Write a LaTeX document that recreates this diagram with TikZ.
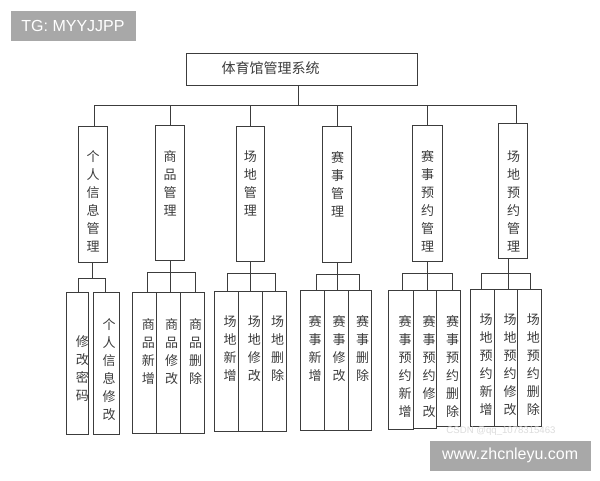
\documentclass[tikz,border=0pt]{standalone}
\usepackage{fontspec}
\setmainfont{Liberation Sans}
\newfontfamily\cjk{Noto Sans CJK SC}
\definecolor{linegray}{RGB}{60,60,60}
\definecolor{markgray}{RGB}{168,168,168}
\definecolor{faintgray}{RGB}{220,220,220}

\tikzset{every picture/.style={line width=1pt}}
\tikzset{
  cell/.style={draw=linegray, inner sep=0pt, outer sep=0pt, anchor=north west},
  vlabel/.style={font=\cjk\fontsize{13}{18}\selectfont, align=center, inner sep=0pt, anchor=north, text=linegray},
  link/.style={draw=linegray},
  wmbox/.style={fill=markgray, inner sep=0pt, anchor=north west, text=white, font=\fontsize{16}{16}\selectfont}
}

\begin{document}
\begin{tikzpicture}[x=1pt,y=1pt,yscale=-1,xscale=1]
\path[use as bounding box, fill=white] (0,0) rectangle (600,480);

%Shape: Rectangle [root]
\node[cell, minimum width=231.7, minimum height=32.4] (sys) at (186,53.3) {};
% Text Node
\node[font=\cjk\fontsize{14}{16}\selectfont, anchor=west, inner sep=0pt, text=linegray] (systext) at (221,67.7) {体育馆管理系统};

%Shape: Rectangle [modules]
\node[cell, minimum width=29.7, minimum height=136] (m1) at (78,126) {};
\node[cell, minimum width=29, minimum height=135] (m2) at (155.5,125.3) {};
\node[cell, minimum width=28, minimum height=135] (m3) at (236.3,126) {};
\node[cell, minimum width=29, minimum height=136] (m4) at (322.7,126) {};
\node[cell, minimum width=29.6, minimum height=135.3] (m5) at (412.7,125.7) {};
\node[cell, minimum width=29.2, minimum height=135.2] (m6) at (498.5,123.3) {};
% Text Node
\node[vlabel] (l1) at (93,150.2) {个\\人\\信\\息\\管\\理};
\node[vlabel] (l2) at (170,150.2) {商\\品\\管\\理};
\node[vlabel] (l3) at (250.3,150.2) {场\\地\\管\\理};
\node[vlabel] (l4) at (337.5,150.5) {赛\\事\\管\\理};
\node[vlabel] (l5) at (427.5,150.2) {赛\\事\\预\\约\\管\\理};
\node[vlabel] (l6) at (513.5,150) {场\\地\\预\\约\\管\\理};

%Shape: Rectangle [functions]
\node[cell, minimum width=22.7, minimum height=141.6] (s1a) at (66,292.7) {};
\node[cell, minimum width=26, minimum height=142] (s1b) at (93.3,292.7) {};
\node[cell, minimum width=24.4, minimum height=141] (s2a) at (132.3,292.3) {};
\node[cell, minimum width=23.3, minimum height=141] (s2b) at (156.7,292.3) {};
\node[cell, minimum width=24.3, minimum height=141] (s2c) at (180,292.3) {};
\node[cell, minimum width=24.4, minimum height=140.7] (s3a) at (214.3,291) {};
\node[cell, minimum width=23.6, minimum height=140.7] (s3b) at (238.7,291) {};
\node[cell, minimum width=23.7, minimum height=140.7] (s3c) at (262.3,291) {};
\node[cell, minimum width=24, minimum height=139.3] (s4a) at (300,290.7) {};
\node[cell, minimum width=24.3, minimum height=139.3] (s4b) at (324,290.7) {};
\node[cell, minimum width=22.7, minimum height=139.3] (s4c) at (348.3,290.7) {};
\node[cell, minimum width=25, minimum height=138.6] (s5a) at (388.3,290.7) {};
\node[cell, minimum width=23.4, minimum height=137.6] (s5b) at (413.3,290.7) {};
\node[cell, minimum width=24, minimum height=136] (s5c) at (436.7,290.7) {};
\node[cell, minimum width=23.6, minimum height=137.4] (s6a) at (470.7,289.3) {};
\node[cell, minimum width=23.4, minimum height=137.4] (s6b) at (494.3,289.3) {};
\node[cell, minimum width=24, minimum height=137.4] (s6c) at (517.7,289.3) {};
% Text Node
\node[vlabel] (t1a) at (82.3,335.2) {修\\改\\密\\码};
\node[vlabel] (t1b) at (109,318.5) {个\\人\\信\\息\\修\\改};
\node[vlabel] (t2a) at (148.3,318.5) {商\\品\\新\\增};
\node[vlabel] (t2b) at (171.7,318.5) {商\\品\\修\\改};
\node[vlabel] (t2c) at (195.7,318.5) {商\\品\\删\\除};
\node[vlabel] (t3a) at (230,315.2) {场\\地\\新\\增};
\node[vlabel] (t3b) at (254.3,315.2) {场\\地\\修\\改};
\node[vlabel] (t3c) at (277.7,315.2) {场\\地\\删\\除};
\node[vlabel] (t4a) at (315,315.2) {赛\\事\\新\\增};
\node[vlabel] (t4b) at (339,315.2) {赛\\事\\修\\改};
\node[vlabel] (t4c) at (362.7,315.2) {赛\\事\\删\\除};
\node[vlabel] (t5a) at (405,315.2) {赛\\事\\预\\约\\新\\增};
\node[vlabel] (t5b) at (429,315.2) {赛\\事\\预\\约\\修\\改};
\node[vlabel] (t5c) at (452.7,315.2) {赛\\事\\预\\约\\删\\除};
\node[vlabel] (t6a) at (486,313.5) {场\\地\\预\\约\\新\\增};
\node[vlabel] (t6b) at (510,313.5) {场\\地\\预\\约\\修\\改};
\node[vlabel] (t6c) at (533.3,313.5) {场\\地\\预\\约\\删\\除};

%Straight Lines [top bus]
\coordinate (root) at (298.3,105);
\coordinate (bus1) at (94,105);
\coordinate (bus6) at (516,105);
\draw[link] (root |- sys.south) -- (root);
\draw[link] (bus1) -- (bus6);
\draw[link] (bus1) -- (bus1 |- m1.north);
\draw[link] (m2.north |- bus1) -- (m2.north);
\draw[link] (m3.north |- bus1) -- (m3.north);
\draw[link] (m4.north |- bus1) -- (m4.north);
\draw[link] (m5.north |- bus1) -- (m5.north);
\draw[link] (bus6) -- (bus6 |- m6.north);

%Straight Lines [group buses]
\coordinate (g1l) at (78.3,278.3);
\coordinate (g1r) at (105.7,278.3);
\draw[link] (m1.south) -- (m1.south |- g1l);
\draw[link] (g1l |- s1a.north) -- (g1l) -- (g1r) -- (g1r |- s1b.north);
\coordinate (g2l) at (147.3,272.7);
\coordinate (g2r) at (195.7,272.7);
\draw[link] (m2.south) -- (m2.south |- s2b.north);
\draw[link] (g2l |- s2a.north) -- (g2l) -- (g2r) -- (g2r |- s2c.north);
\coordinate (g3l) at (227.7,273.3);
\coordinate (g3r) at (275.7,273.3);
\draw[link] (m3.south) -- (m3.south |- s3b.north);
\draw[link] (g3l |- s3a.north) -- (g3l) -- (g3r) -- (g3r |- s3c.north);
\coordinate (g4l) at (316.7,274.3);
\coordinate (g4r) at (359,274.3);
\draw[link] (m4.south) -- (m4.south |- s4b.north);
\draw[link] (g4l |- s4a.north) -- (g4l) -- (g4r) -- (g4r |- s4c.north);
\coordinate (g5l) at (402,273.3);
\coordinate (g5r) at (452.3,273.3);
\draw[link] (m5.south) -- (m5.south |- s5b.north);
\draw[link] (g5l |- s5a.north) -- (g5l) -- (g5r) -- (g5r |- s5c.north);
\coordinate (g6l) at (481.3,273.5);
\coordinate (g6m) at (508.3,273.5);
\coordinate (g6r) at (530.3,273.5);
\draw[link] (g6m |- m6.south) -- (g6m |- s6b.north);
\draw[link] (g6l |- s6a.north) -- (g6l) -- (g6r) -- (g6r |- s6c.north);

% Text Node [marks]
\node[wmbox, minimum width=125, minimum height=30] (tg) at (10,10) {TG: MYYJJPP};
\node[wmbox, minimum width=160.7, minimum height=30] (site) at (429.3,440) {www.zhcnleyu.com};
\node[text=faintgray, font=\fontsize{9.6}{10}\selectfont, inner sep=0pt] (csdn) at (501,431) {CSDN @qq\_1078315463};

\end{tikzpicture}
\end{document}
